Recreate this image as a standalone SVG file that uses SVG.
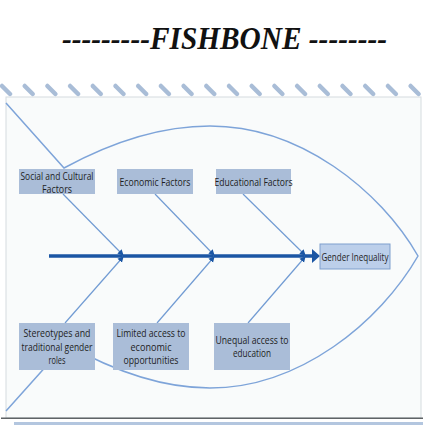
<svg xmlns="http://www.w3.org/2000/svg" width="423" height="425" viewBox="0 0 423 425">
<defs>
<style>
.stripe{stroke:#a9bdd7;stroke-width:4.5;stroke-linecap:round}
.outline{fill:none;stroke:#7ea4d9;stroke-width:1.5}
.bone{fill:none;stroke:#719bd3;stroke-width:1.2;marker-end:url(#ah)}
.box{fill:#aabdd8}
.lbl{font-family:"Open Sans","DejaVu Sans",sans-serif;font-size:10.5px;fill:#1e1e1e;text-anchor:middle}
</style>
<marker id="ah" markerUnits="userSpaceOnUse" markerWidth="7" markerHeight="7" refX="5" refY="3.5" orient="auto">
<path d="M0,0.5 L6,3.5 L0,6.5 z" fill="#1b56a4"/>
</marker>
</defs>
<rect width="423" height="425" fill="#ffffff"/>
<text x="62" y="49" font-family="'Liberation Serif','DejaVu Serif',serif" font-style="italic" font-weight="bold" font-size="32" fill="#111" textLength="325" lengthAdjust="spacingAndGlyphs">---------FISHBONE --------</text>
<g id="stripes">
<line class="stripe" x1="2" y1="86" x2="10" y2="94"/>
<line class="stripe" x1="24.7" y1="86" x2="32.7" y2="94"/>
<line class="stripe" x1="47.4" y1="86" x2="55.4" y2="94"/>
<line class="stripe" x1="70.1" y1="86" x2="78.1" y2="94"/>
<line class="stripe" x1="92.8" y1="86" x2="100.8" y2="94"/>
<line class="stripe" x1="115.5" y1="86" x2="123.5" y2="94"/>
<line class="stripe" x1="138.2" y1="86" x2="146.2" y2="94"/>
<line class="stripe" x1="160.9" y1="86" x2="168.9" y2="94"/>
<line class="stripe" x1="183.6" y1="86" x2="191.6" y2="94"/>
<line class="stripe" x1="206.3" y1="86" x2="214.3" y2="94"/>
<line class="stripe" x1="229" y1="86" x2="237" y2="94"/>
<line class="stripe" x1="251.7" y1="86" x2="259.7" y2="94"/>
<line class="stripe" x1="274.4" y1="86" x2="282.4" y2="94"/>
<line class="stripe" x1="297.1" y1="86" x2="305.1" y2="94"/>
<line class="stripe" x1="319.8" y1="86" x2="327.8" y2="94"/>
<line class="stripe" x1="342.5" y1="86" x2="350.5" y2="94"/>
<line class="stripe" x1="365.2" y1="86" x2="373.2" y2="94"/>
<line class="stripe" x1="387.9" y1="86" x2="395.9" y2="94"/>
<line class="stripe" x1="410.6" y1="86" x2="418.6" y2="94"/>
</g>
<rect x="6" y="97" width="415" height="321" fill="#f9fbfb" stroke="#d5dcdf" stroke-width="1"/>
<line x1="1" y1="418.3" x2="423" y2="418.3" stroke="#5f6366" stroke-width="1.5"/>
<rect x="14" y="422" width="409" height="3" fill="#b3c6df"/>
<g id="fish">
<path class="outline" d="M6,103 L64,168 C110,143 160,126 210,126 C300,126 380,190 418,256 C380,322 300,388 210,388 C160,388 110,369 66,344 L6,411"/>
</g>
<g id="connectors">
<line x1="49" y1="256" x2="313" y2="256" stroke="#1b56a4" stroke-width="3.5"/>
<path d="M312,249 L320,256 L312,263 z" fill="#1b56a4"/>
<line class="bone" x1="63" y1="194" x2="123" y2="255"/>
<line class="bone" x1="155" y1="194" x2="214" y2="255"/>
<line class="bone" x1="243" y1="194" x2="305" y2="255"/>
<line class="bone" x1="65" y1="323" x2="123" y2="257"/>
<line class="bone" x1="157" y1="323" x2="214" y2="257"/>
<line class="bone" x1="248" y1="323" x2="305" y2="257"/>
</g>
<g id="social">
<rect class="box" x="19" y="169" width="76" height="25"/>
<text class="lbl" x="57" y="180" textLength="73" lengthAdjust="spacingAndGlyphs">Social and Cultural</text>
<text class="lbl" x="57" y="193" textLength="30" lengthAdjust="spacingAndGlyphs">Factors</text>
</g>
<g id="economic">
<rect class="box" x="117" y="169" width="76" height="25"/>
<text class="lbl" x="155" y="186" textLength="71" lengthAdjust="spacingAndGlyphs">Economic Factors</text>
</g>
<g id="educational">
<rect class="box" x="216" y="169" width="75" height="25"/>
<text class="lbl" x="253.5" y="186" textLength="78" lengthAdjust="spacingAndGlyphs">Educational Factors</text>
</g>
<g id="gender">
<rect x="320" y="244" width="70" height="25" fill="#bccfea" stroke="#7f9fcd" stroke-width="1"/>
<text class="lbl" x="355" y="260.5" textLength="67" lengthAdjust="spacingAndGlyphs">Gender Inequality</text>
</g>
<g id="stereotypes">
<rect class="box" x="19" y="323" width="76" height="47"/>
<text class="lbl" x="57" y="337" textLength="67" lengthAdjust="spacingAndGlyphs">Stereotypes and</text>
<text class="lbl" x="57" y="350.5" textLength="71" lengthAdjust="spacingAndGlyphs">traditional gender</text>
<text class="lbl" x="57" y="364" textLength="17" lengthAdjust="spacingAndGlyphs">roles</text>
</g>
<g id="limited">
<rect class="box" x="113" y="323" width="76" height="47"/>
<text class="lbl" x="151" y="337" textLength="69" lengthAdjust="spacingAndGlyphs">Limited access to</text>
<text class="lbl" x="151" y="350.5" textLength="41" lengthAdjust="spacingAndGlyphs">economic</text>
<text class="lbl" x="151" y="364" textLength="55" lengthAdjust="spacingAndGlyphs">opportunities</text>
</g>
<g id="unequal">
<rect class="box" x="214" y="323" width="76" height="47"/>
<text class="lbl" x="252" y="343.5" textLength="73" lengthAdjust="spacingAndGlyphs">Unequal access to</text>
<text class="lbl" x="252" y="357" textLength="38" lengthAdjust="spacingAndGlyphs">education</text>
</g>
</svg>
